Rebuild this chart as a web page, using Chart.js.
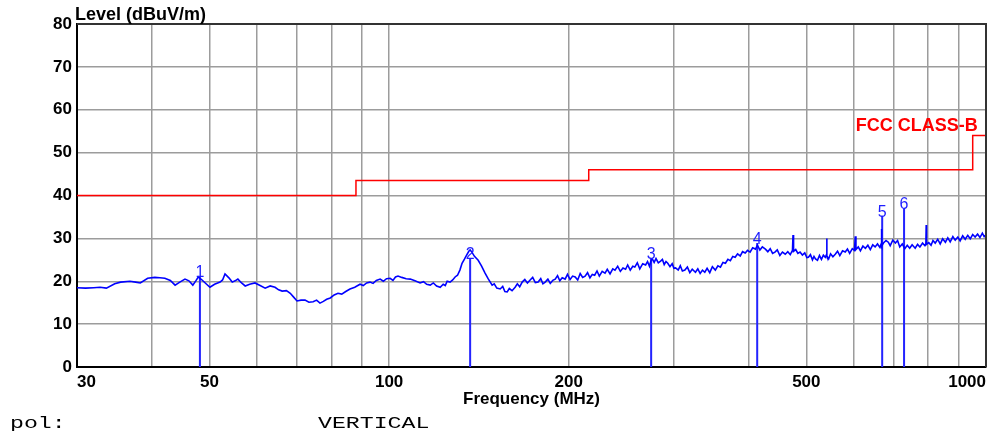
<!DOCTYPE html>
<html>
<head>
<meta charset="utf-8">
<title>Level (dBuV/m)</title>
<script src="https://cdn.jsdelivr.net/npm/chart.js@4.4.1/dist/chart.umd.min.js"></script>
<style>
  html, body { margin: 0; padding: 0; background: #fff; }
  #wrap { width: 1005px; height: 432px; }
</style>
</head>
<body>
<div id="wrap"><canvas id="emi"></canvas></div>
<script>
// axes: frequency (MHz, log) and level (dBuV/m)
const gridFreqs = [30, 40, 50, 60, 70, 80, 90, 100, 200, 300, 400, 500, 600, 700, 800, 900, 1000];
const freqLabels = [30, 50, 100, 200, 500, 1000];
const levelTicks = [0, 10, 20, 30, 40, 50, 60, 70, 80];

// FCC class B limit (step points)
const limitFreq = [30, 88, 216, 950, 1000];
const limitLevel = [40, 43.5, 46, 54, 54];

// peak markers
const markerNames = ['1', '2', '3', '4', '5', '6'];
const markerFreq = [48.2, 136.7, 274.8, 413.7, 670, 729];
const markerLevel = [21.2, 25.4, 25.4, 28.9, 35.3, 37.0];

// measured trace, [MHz, dBuV/m]
const trace = [
  [30,18.5],[31,18.4],[32,18.5],[32.8,18.6],[33.6,18.4],[34.7,19.4],[35.5,19.8],[36.8,20.0],[37.6,19.8],
  [38.3,19.6],[39.4,20.7],[40.5,20.9],[41.3,20.8],[42.1,20.7],[43,20.2],[43.8,19.1],[44.6,19.8],[45.5,20.5],
  [46.2,20.1],[46.9,19.1],[47.5,20.2],[47.9,21.0],[48.5,20.4],[49.2,19.6],[50.1,18.6],[51,19.3],[52.1,19.8],
  [52.6,20.3],[53.1,21.7],[53.9,20.8],[54.6,19.8],[55.2,20.1],[55.8,20.5],[56.6,19.6],[57.4,18.9],[58.4,19.3],
  [59.6,19.6],[60.8,19.0],[62,18.4],[63.2,18.9],[64.4,18.6],[65.3,18.0],[66.2,17.7],[67.3,17.8],[68.3,17.2],
  [69.2,16.3],[70.1,15.4],[71.2,15.6],[72.3,15.6],[73.4,15.1],[74.6,15.2],[75.6,15.6],[76.6,14.9],[77.6,15.3],
  [78.6,15.8],[79.7,16.1],[80.9,16.8],[82.1,17.2],[83.3,17.0],[84.6,17.6],[86,18.2],[87.6,18.6],[89.4,19.3],
  [90.5,19.0],[91.7,19.6],[92.9,19.8],[94,19.5],[95.2,20.2],[96.6,20.5],[97.8,20.0],[99,20.6],[100.4,20.7],
  [101.5,20.2],[102.5,21.0],[103.5,21.2],[105,20.9],[106.8,20.6],[108.5,20.5],[110.5,20.1],[112.7,19.6],
  [114.2,19.9],[115.6,19.3],[117.2,19.1],[118.6,19.6],[120.1,18.9],[121.8,18.6],[123.2,19.3],[124.2,19.0],
  [125.1,20.0],[126.5,19.8],[127.8,20.3],[129,21.0],[130.2,21.4],[131.4,22.6],[132.5,24.2],[133.8,25.2],
  [135,26.2],[136,27.0],[136.7,27.3],[137.6,26.8],[139,25.8],[141,24.9],[142.8,23.6],[144.8,21.9],
  [146.5,20.6],[148.8,19.1],[150,19.4],[151.5,18.4],[153.5,18.2],[155,18.8],[156.3,17.6],[157.7,17.5],
  [159,18.3],[160.7,17.8],[162.6,18.6],[164,19.4],[165.5,18.7],[167.1,19.8],[168.8,20.4],[170.5,19.6],
  [172.3,20.3],[174,20.9],[175.8,19.7],[177.7,19.8],[179.5,20.6],[181,19.4],[182.6,19.8],[184.5,20.5],
  [186.2,19.5],[188,20.2],[189.8,20.5],[191.5,21.3],[193.2,20.1],[195,20.8],[197.2,20.5],[199,21.6],
  [201,20.4],[203,21.2],[205,21.0],[207,20.3],[209,21.8],[211,20.9],[213,21.2],[215,22.0],[217,20.8],
  [219,21.6],[221,21.4],[223,22.4],[225,21.2],[227.5,22.3],[230,21.9],[232,22.8],[234.5,21.7],[237,22.9],
  [239,22.6],[241.5,23.5],[244,22.3],[246.5,23.1],[249,22.8],[251,23.8],[253.5,22.6],[256,23.5],[258,23.3],
  [260.5,24.3],[263,22.9],[266,24.1],[269,23.8],[271,24.6],[273,23.5],[274.8,24.9],[276,25.2],[278,24.4],
  [280,25.3],[282.5,24.3],[285,24.7],[287,25.1],[289,23.9],[291,24.6],[293,24.2],[295.5,23.4],[298,24.1],
  [300,23.0],[302,23.1],[305,22.6],[307.5,23.6],[310,22.4],[313,22.6],[316,23.3],[319,22.0],[322,22.8],
  [326,22.1],[329,22.9],[332,21.8],[335,22.6],[338,22.1],[341,23.0],[344.5,22.0],[348,23.4],[352,22.6],
  [355.5,23.6],[359,23.3],[362.5,24.4],[366,24.2],[369.5,25.1],[373,24.8],[376.5,25.8],[380,25.6],
  [383.5,26.4],[387.5,25.9],[391,26.9],[395,26.6],[398.5,27.2],[402.5,26.8],[406.5,27.8],[411,27.5],
  [414,28.4],[418,27.3],[422,28.0],[427,27.5],[431,26.9],[435,27.6],[439,26.5],[443,26.8],[447,27.3],
  [451.5,26.0],[456,26.8],[461,26.3],[465.5,26.9],[470,26.2],[474,27.2],[475,30.8],[476,27.0],[480,27.4],
  [484,26.5],[488,26.8],[492.5,26.1],[497,26.6],[501,25.5],[504,25.6],[508,26.2],[512,25.0],[515,25.8],
  [518,25.2],[522,24.9],[526,26.0],[530,25.1],[534,26.1],[538,25.6],[540.5,26.2],[541,30.0],[541.5,25.9],
  [545,25.2],[549,26.4],[554,25.7],[559,26.3],[564,27.0],[569,26.0],[575,27.1],[581,26.8],[586,27.5],
  [591,26.5],[597,27.6],[602,27.2],[604,30.5],[605.5,27.4],[611,28.0],[616,27.1],[622,28.2],[628,27.7],
  [634,28.4],[640,27.4],[646,28.5],[652,28.0],[658,28.7],[664,27.9],[667,28.6],[668,32.2],[669,28.2],
  [674,29.0],[680,29.5],[686,29.1],[691,28.3],[698,29.6],[705,28.9],[711,29.5],[717,28.0],[724,28.7],
  [731,27.6],[738,28.4],[745,27.7],[752,28.5],[761,27.7],[768,28.6],[775,28.0],[783,28.9],[790,28.3],
  [793,28.8],[794,33.1],[795,28.6],[802,29.0],[809,28.4],[815,29.5],[822,28.9],[830,29.8],[838,28.7],
  [846,29.9],[855,29.1],[863,30.1],[871,29.2],[880,30.4],[888,29.6],[897,30.3],[905,29.4],[914,30.6],
  [923,29.8],[932,30.7],[941,29.9],[950,30.9],[959,30.3],[968,31.0],[977,30.2],[986,31.2],[993,30.4],
  [1000,30.8]
];

const boldFont = { family: '"Liberation Sans", Arial, sans-serif', size: 17, weight: 'bold' };

// marker sticks: 0 -> value, gap between each
const markerPoints = [];
markerFreq.forEach((f, i) => {
  markerPoints.push({ x: f, y: 0 }, { x: f, y: markerLevel[i] }, { x: f, y: null });
});

const extras = {
  id: 'extras',
  afterDraw(chart) {
    const { ctx, chartArea: a, scales: { x, y } } = chart;
    ctx.save();
    // top and right frame
    ctx.strokeStyle = '#333';
    ctx.lineWidth = 2;
    ctx.beginPath();
    ctx.moveTo(a.left, a.top);
    ctx.lineTo(a.right, a.top);
    ctx.lineTo(a.right, a.bottom);
    ctx.stroke();

    // marker numbers
    ctx.fillStyle = '#1f1fff';
    ctx.font = '16px "Liberation Sans", Arial, sans-serif';
    ctx.textAlign = 'center';
    ctx.textBaseline = 'alphabetic';
    markerNames.forEach((n, i) => {
      ctx.fillText(n, x.getPixelForValue(markerFreq[i]), y.getPixelForValue(markerLevel[i]) + 1);
    });

    // limit name
    ctx.fillStyle = '#ff0000';
    ctx.font = 'bold 18px "Liberation Sans", Arial, sans-serif';
    ctx.textAlign = 'right';
    ctx.fillText('FCC CLASS-B', x.getPixelForValue(limitFreq[3]) + 5, y.getPixelForValue(limitLevel[3]) - 4);

    // y axis name
    ctx.fillStyle = '#000';
    ctx.textAlign = 'left';
    ctx.fillText('Level (dBuV/m)', a.left - 2, 20);

    // polarisation line
    ctx.font = '16px "Liberation Mono", "Courier New", monospace';
    ctx.translate(10, 428);
    ctx.scale(1.45, 1);
    ctx.fillText('pol:', 0, 0);
    ctx.fillText('VERTICAL', (318 - 10) / 1.45, 0);
    ctx.restore();
  }
};

new Chart(document.getElementById('emi'), {
  type: 'line',
  data: {
    datasets: [
      {
        label: 'FCC CLASS-B',
        data: limitFreq.map((f, i) => ({ x: f, y: limitLevel[i] })),
        stepped: 'before',
        borderColor: '#ff0000',
        borderWidth: 1.5,
        pointRadius: 0
      },
      {
        label: 'Level',
        data: trace.map(p => ({ x: p[0], y: p[1] })),
        borderColor: '#0000ff',
        borderWidth: 1.6,
        pointRadius: 0,
        tension: 0
      },
      {
        label: 'Markers',
        data: markerPoints,
        borderColor: '#2424ff',
        borderWidth: 2,
        pointRadius: 0,
        spanGaps: false
      }
    ]
  },
  options: {
    responsive: true,
    maintainAspectRatio: false,
    animation: false,
    devicePixelRatio: 1,
    layout: { padding: { left: 0, right: 19, top: 24, bottom: 17 } },
    plugins: {
      legend: { display: false },
      tooltip: { enabled: false }
    },
    scales: {
      x: {
        type: 'logarithmic',
        min: 30,
        max: 1000,
        afterBuildTicks: (s) => { s.ticks = gridFreqs.map(v => ({ value: v })); },
        afterFit: (s) => { s.height = 48; },
        ticks: {
          autoSkip: false,
          maxRotation: 0,
          align: 'inner',
          padding: 5,
          color: '#000',
          font: boldFont,
          callback: (v) => freqLabels.includes(v) ? String(v) : ''
        },
        grid: { color: '#9c9c9c', lineWidth: 1.5, drawTicks: false },
        border: { display: true, color: '#000', width: 2 },
        title: {
          display: true,
          text: 'Frequency (MHz)',
          color: '#000',
          font: boldFont,
          padding: { top: 0, bottom: 5 }
        }
      },
      y: {
        min: 0,
        max: 80,
        afterBuildTicks: (s) => { s.ticks = levelTicks.map(v => ({ value: v })); },
        afterFit: (s) => { s.width = 77; },
        ticks: {
          padding: 5,
          color: '#000',
          font: boldFont
        },
        grid: { color: '#9c9c9c', lineWidth: 1.5, drawTicks: false },
        border: { display: true, color: '#000', width: 2 }
      }
    }
  },
  plugins: [extras]
});
</script>
</body>
</html>
